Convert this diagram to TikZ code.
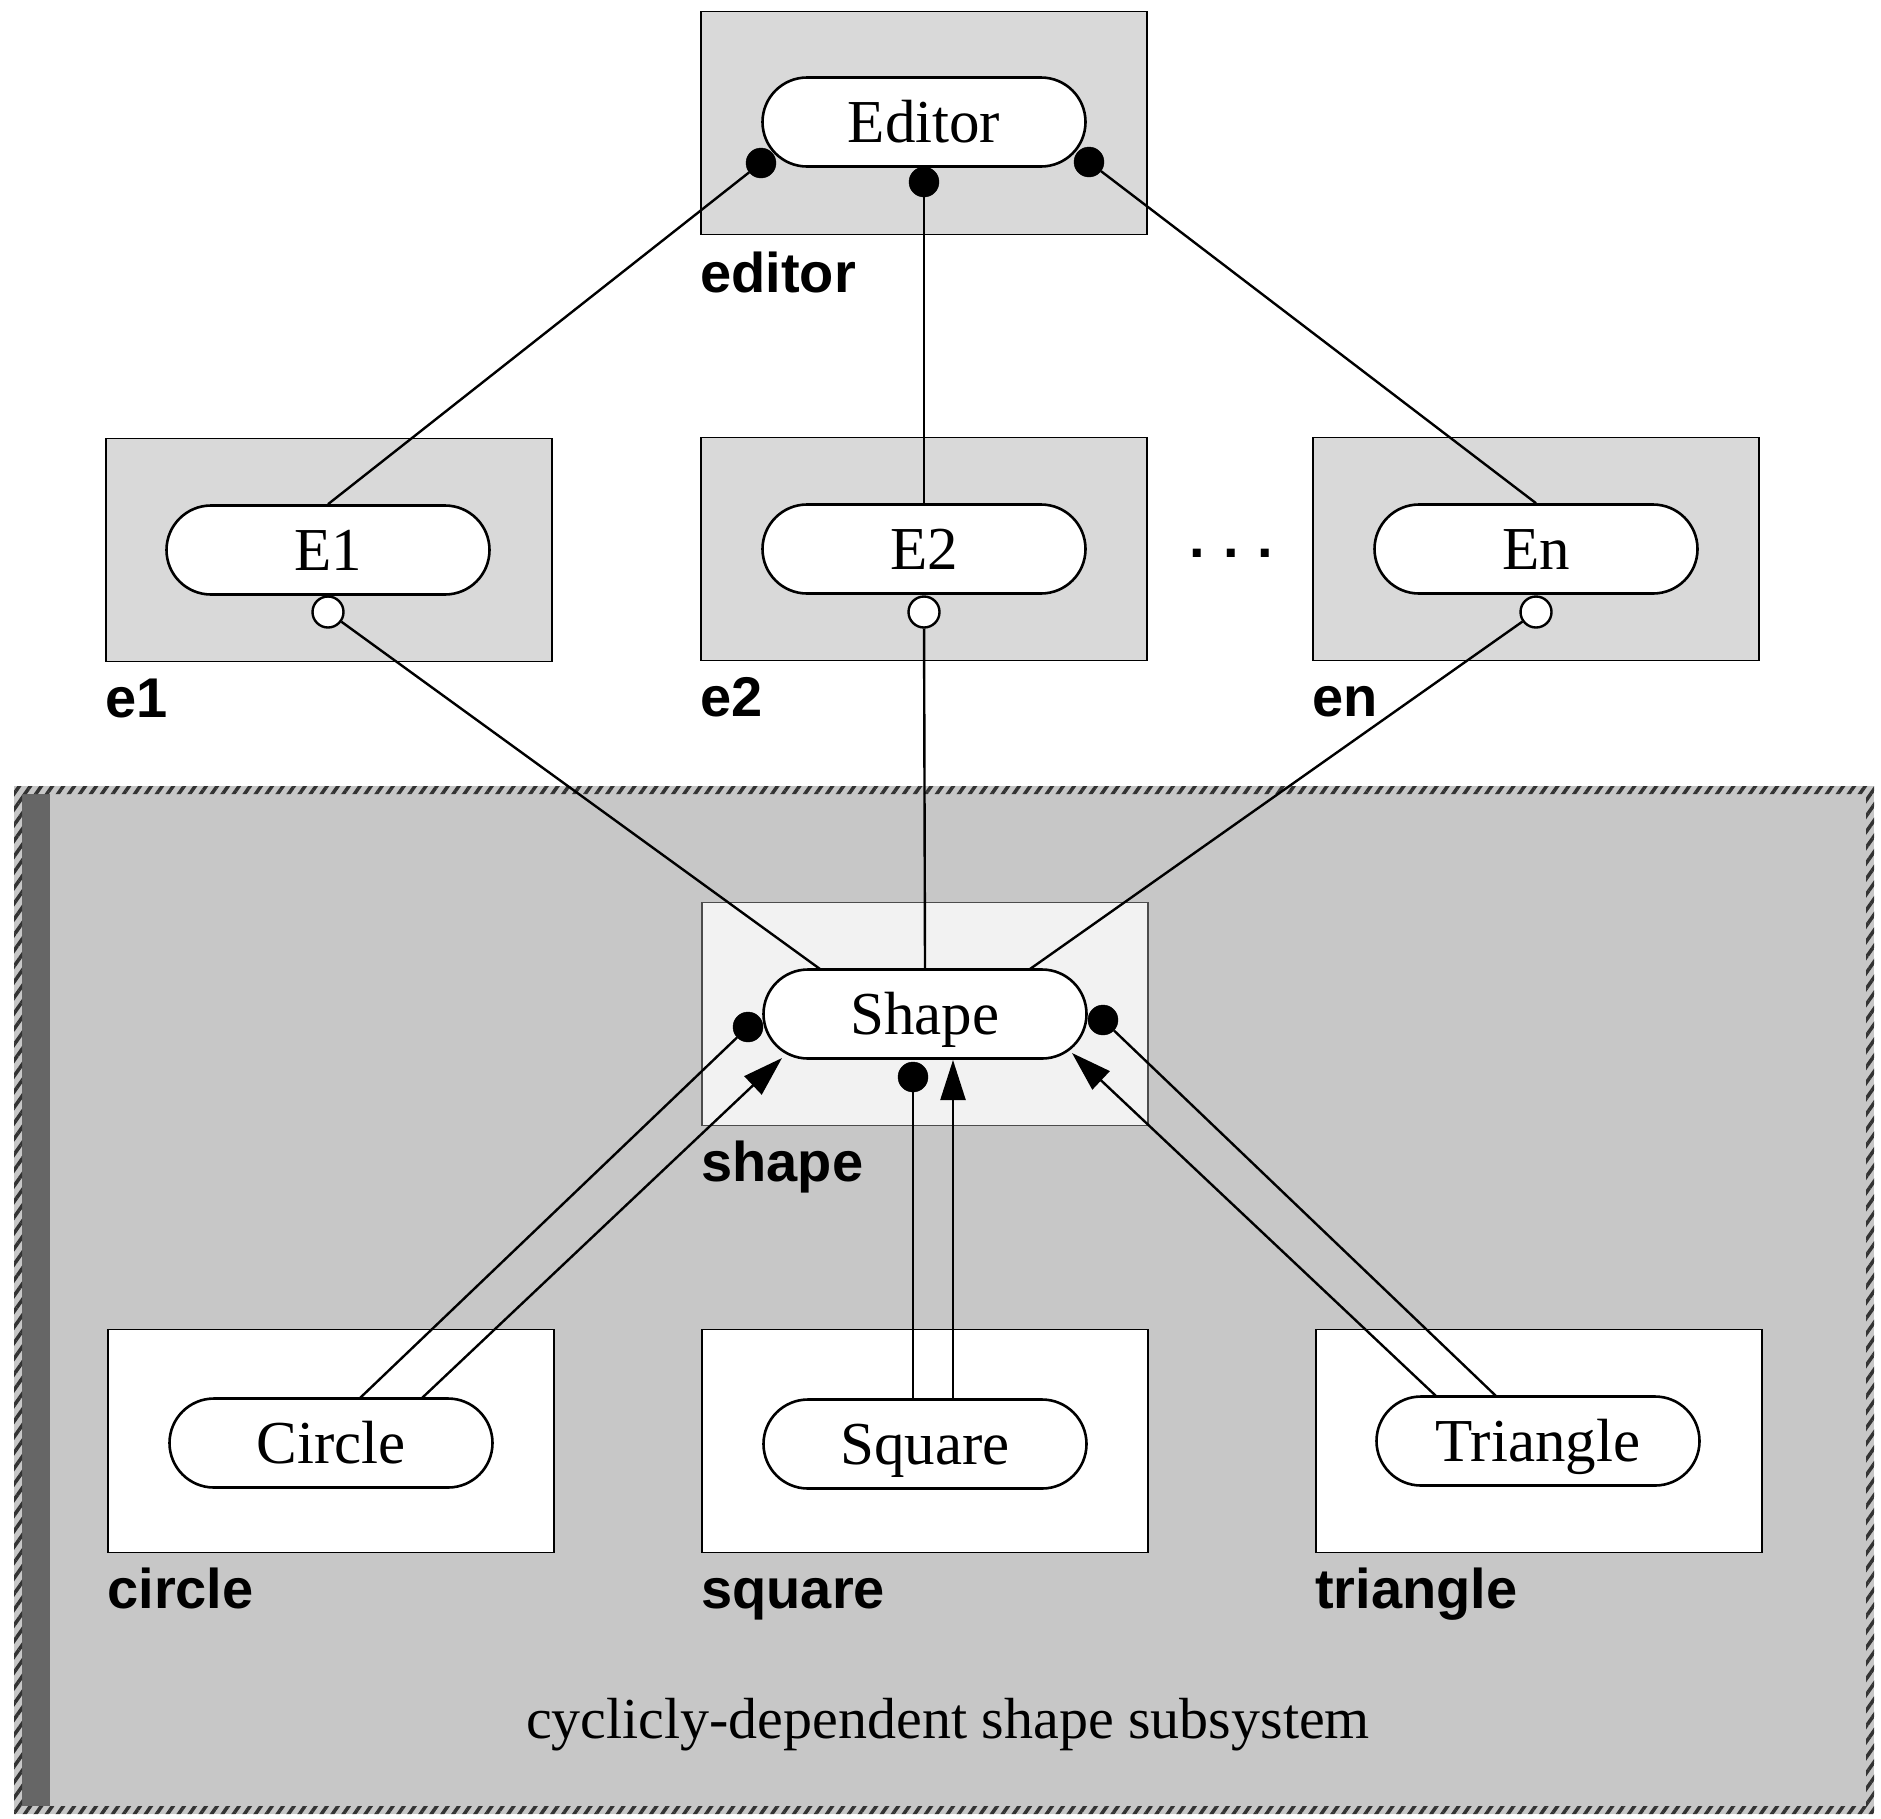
\documentclass[tikz,border=0pt]{standalone}
\usepackage{fontspec}
\setmainfont{Liberation Serif}
\newfontfamily\labelfont{Liberation Sans}
\usetikzlibrary{shapes.misc,arrows.meta,patterns.meta}
\begin{document}
\begin{tikzpicture}[x=1pt,y=-1pt,
  pkgbox/.style={draw=black, line width=1.8pt, minimum width=446pt, minimum height=223pt, inner sep=0pt},
  graybox/.style={pkgbox, fill=black!15},
  whitebox/.style={pkgbox, fill=white},
  shapebox/.style={pkgbox, fill=black!5, draw=black!70},
  pill/.style={rounded rectangle, draw, line width=2.6pt, fill=white, minimum width=323pt, minimum height=89pt, inner sep=0pt, text height=44pt, text depth=4pt, font=\fontsize{61}{64}\selectfont},
  pkglabel/.style={anchor=base west, inner sep=0pt, font=\labelfont\bfseries\fontsize{56}{60}\selectfont},
  fdot/.style={circle, fill=black, draw=black, minimum size=30pt, inner sep=0pt},
  odot/.style={circle, fill=white, draw=black, line width=2.4pt, minimum size=31pt, inner sep=0pt},
  conn/.style={line width=2.4pt},
  arr/.style={conn, -{Triangle[length=40pt,width=25pt]}},
  region/.style={fill=black!22},
]
\useasboundingbox (0,0) rectangle (1881,1818);
% subsystem region
\fill[region] (14,786) rectangle (1874,1814);
\fill[black!60] (22,794) rectangle (50,1806);
\fill[even odd rule, pattern={Lines[angle=55,distance=9pt,line width=3.5pt]}, pattern color=black!80]
  (14,786) rectangle (1874,1814) (22,794) rectangle (1866,1806);
\node[anchor=base, inner sep=0pt, font=\fontsize{58}{60}\selectfont] (subsys) at (948,1738) {cyclicly-dependent shape subsystem};

% package boxes
\node[graybox] (editorbox) at (924,123) {};
\node[graybox] (e1box) at (329,550) {};
\node[graybox] (e2box) at (924,549) {};
\node[graybox] (enbox) at (1536,549) {};
\node[shapebox] (shapebox) at (925,1014) {};
\node[whitebox] (circlebox) at (331,1441) {};
\node[whitebox] (squarebox) at (925,1441) {};
\node[whitebox] (trianglebox) at (1539,1441) {};

% package labels
\node[pkglabel] (lbeditor) at ([yshift=-57pt]editorbox.south west) {editor};
\node[pkglabel] (lbe1) at ([yshift=-55pt]e1box.south west) {e1};
\node[pkglabel] (lbe2) at ([yshift=-55pt]e2box.south west) {e2};
\node[pkglabel] (lben) at ([yshift=-55pt]enbox.south west) {en};
\node[pkglabel] (lbshape) at ([yshift=-55pt]shapebox.south west) {shape};
\node[pkglabel] (lbcircle) at ([yshift=-55pt]circlebox.south west) {circle};
\node[pkglabel] (lbsquare) at ([yshift=-55pt]squarebox.south west) {square};
\node[pkglabel] (lbtriangle) at ([yshift=-55pt]trianglebox.south west) {triangle};
\node[anchor=base, inner sep=0pt, font=\labelfont\bfseries\fontsize{56}{60}\selectfont] (ellipsis) at (1231,557) {.\,\,.\,\,.};

% component pills
\node[pill] (editor) at (924,122) {Editor};
\node[pill] (E1) at (328,550) {E1};
\node[pill] (E2) at (924,549) {E2};
\node[pill] (En) at (1536,549) {En};
\node[pill] (shape) at (925,1014) {Shape};
\node[pill] (circ) at (331,1443) {Circle};
\node[pill] (square) at (925,1444) {Square};
\node[pill] (triangle) at (1538,1441) {Triangle};

% dots
\node[fdot] (ed1) at (761,163) {};
\node[fdot] (ed2) at (924,182) {};
\node[fdot] (ed3) at (1089,162) {};
\node[odot] (o1) at (328,612) {};
\node[odot] (o2) at (924,612) {};
\node[odot] (o3) at (1536,612) {};
\node[fdot] (sdl) at (748,1027) {};
\node[fdot] (sdr) at (1103,1020) {};
\node[fdot] (sdb) at (913,1077) {};

% free ends
\coordinate (tipL) at (782,1058);
\coordinate (tipM) at (953,1060);
\coordinate (tipR) at (1072,1053);
\coordinate (shTopL) at (820,969);
\coordinate (shTopR) at (1030,969);
\coordinate (ciA) at (360,1398);
\coordinate (ciB) at (422,1398);
\coordinate (sqA) at (913,1399);
\coordinate (sqB) at (953,1399);
\coordinate (trA) at (1436,1396);
\coordinate (trB) at (1496,1396);

% connectors
\draw[conn] (ed1) -- (E1.north);
\draw[conn] (ed2) -- (E2.north);
\draw[conn] (ed3) -- (En.north);
\draw[conn] (o1) -- (shTopL);
\draw[conn] (o2) -- (shape.north);
\draw[conn] (o3) -- (shTopR);
\draw[conn] (ciA) -- (sdl);
\draw[arr] (ciB) -- (tipL);
\draw[conn] (sqA) -- (sdb);
\draw[arr] (sqB) -- (tipM);
\draw[arr] (trA) -- (tipR);
\draw[conn] (trB) -- (sdr);
\end{tikzpicture}
\end{document}
